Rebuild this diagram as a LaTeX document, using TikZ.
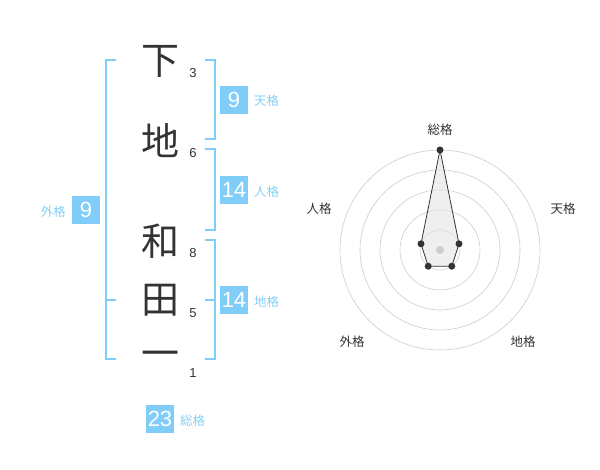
\documentclass[tikz,border=0pt]{standalone}
\usepackage{fontspec}
\setmainfont{Liberation Sans}
\newfontfamily\jp{Noto Sans CJK JP}
\definecolor{boxblue}{HTML}{7FCDF8}
\definecolor{lblblue}{HTML}{86CFF6}
\definecolor{txt}{HTML}{333333}
\definecolor{ring}{HTML}{CCCCCC}
\tikzset{
  kanji/.style={font=\jp\fontsize{38}{38}\selectfont, text=txt, inner sep=0pt},
  strokes/.style={font=\fontsize{13}{13}\selectfont, text=txt, inner sep=0pt},
  valbox/.style={fill=boxblue, text=white, font=\fontsize{22}{22}\selectfont, minimum width=28pt, minimum height=28pt, inner sep=0pt},
  lbl/.style={font=\jp\fontsize{12.5}{12.5}\selectfont, text=lblblue, inner sep=0pt},
  brk/.style={draw=boxblue, line width=1.6pt},
  axlbl/.style={font=\jp\fontsize{12.5}{12.5}\selectfont, text=txt, inner sep=0pt},
  ringline/.style={draw=ring, line width=0.6pt},
  dot/.style={circle, fill=txt, inner sep=0pt, minimum size=7pt},
}
\begin{document}
\begin{tikzpicture}[x=1pt,y=-1pt]
\useasboundingbox (0,0) rectangle (600,470);
% kanji
\node[kanji] (k1) at (160,61) {下};
\node[kanji] (k2) at (160,141) {地};
\node[kanji] (k3) at (160,241) {和};
\node[kanji] (k4) at (160,300) {田};
\node[kanji] (k5) at (160,359) {一};
% stroke counts
\node[strokes] (s1) at (193,73) {3};
\node[strokes] (s2) at (193,153) {6};
\node[strokes] (s3) at (193,253) {8};
\node[strokes] (s4) at (193,313) {5};
\node[strokes] (s5) at (193,373) {1};
% left bracket
\draw[brk] (116,60) -- (106,60) -- (106,359) -- (116,359);
\draw[brk] (106,300) -- (116,300);
% right brackets
\draw[brk] (205,60) -- (215,60) -- (215,139) -- (205,139);
\draw[brk] (205,149) -- (215,149) -- (215,230) -- (205,230);
\draw[brk] (205,240) -- (215,240) -- (215,359) -- (205,359);
\draw[brk] (205,300) -- (215,300);
% value boxes
\node[valbox] (b1) at (234,100) {9};
\node[lbl, anchor=west] (l1) at (254,101) {天格};
\node[valbox] (b2) at (234,190) {14};
\node[lbl, anchor=west] (l2) at (254,192) {人格};
\node[valbox] (b3) at (234,300) {14};
\node[lbl, anchor=west] (l3) at (254,302) {地格};
\node[valbox] (b4) at (86,210) {9};
\node[lbl, anchor=east] (l4) at (66,212) {外格};
\node[valbox] (b5) at (160,419) {23};
\node[lbl, anchor=west] (l5) at (180,421) {総格};
% radar
\coordinate (c) at (440,250);
\foreach \r in {20,40,60,80,100} \draw[ringline] (c) circle[radius=\r pt];
\coordinate (pS) at (440,150);
\coordinate (pT) at (459,243.8);
\coordinate (pC) at (451.8,266.2);
\coordinate (pG) at (428.2,266.2);
\coordinate (pJ) at (421,243.8);
\filldraw[fill=gray!20, fill opacity=0.6, draw=txt, line width=0.8pt] (pS) -- (pT) -- (pC) -- (pG) -- (pJ) -- cycle;
\fill[ring] (c) circle[radius=4pt];
\foreach \p in {pS,pT,pC,pG,pJ} \node[dot] at (\p) {};
\node[axlbl] (a1) at (440,130) {総格};
\node[axlbl] (a2) at (563,209) {天格};
\node[axlbl] (a3) at (523,342) {地格};
\node[axlbl] (a4) at (352,342) {外格};
\node[axlbl] (a5) at (319,209) {人格};
\end{tikzpicture}
\end{document}
